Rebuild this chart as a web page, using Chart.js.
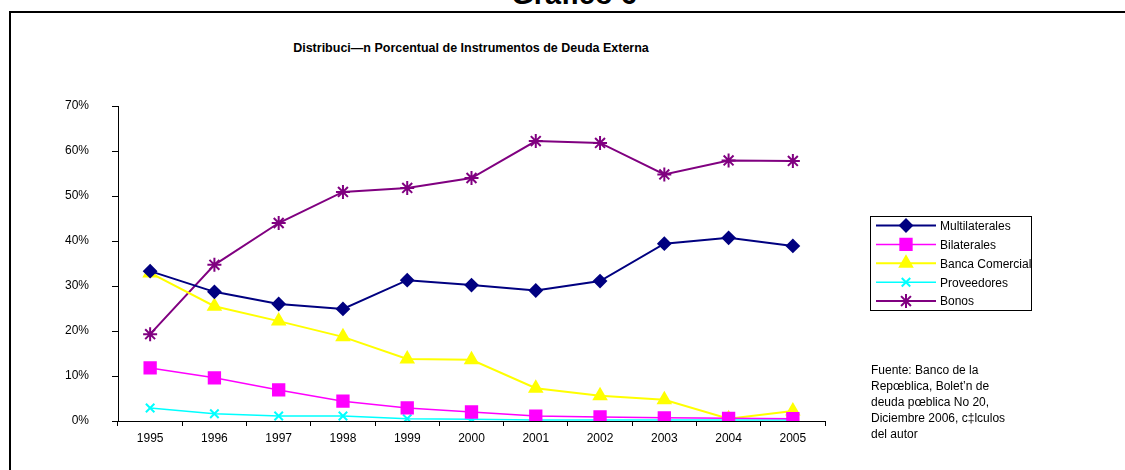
<!DOCTYPE html>
<html>
<head>
<meta charset="utf-8">
<script src="https://cdn.jsdelivr.net/npm/chart.js@4"></script>
<style>
  html, body { margin: 0; padding: 0; background: #fff; }
  #wrap { position: relative; width: 1125px; height: 470px; overflow: hidden; font-family: Arial, "Liberation Sans", sans-serif; }
  #titulo { position: absolute; left: 0; width: 1148px; top: -22px; text-align: center; font-weight: bold; font-size: 29px; color: #000; }
  #marco { position: absolute; left: 9px; top: 11px; width: 1130px; height: 480px; border-top: 2px solid #000; border-left: 2px solid #000; }
  #sub { position: absolute; left: 0; width: 942px; top: 41px; text-align: center; font-weight: bold; font-size: 12.5px; color: #000; }
  #fuente { position: absolute; left: 871px; top: 362px; font-size: 12px; line-height: 16px; color: #000; }
  canvas { position: absolute; left: 0; top: 0; }
</style>
</head>
<body>
<div id="wrap">
  <div id="titulo">Gráfico 6</div>
  <div id="marco"></div>
  <div id="sub">Distribuci—n Porcentual de Instrumentos de Deuda Externa</div>
  <canvas id="grafico" width="1125" height="470"></canvas>
  <div id="fuente">Fuente: Banco de la<br>Repœblica, Bolet’n de<br>deuda pœblica No 20,<br>Diciembre 2006, c‡lculos<br>del autor</div>
</div>
<script>
// Datos (porcentajes)
const anios = ['1995','1996','1997','1998','1999','2000','2001','2002','2003','2004','2005'];
const multilaterales = [33.3, 28.7, 26.0, 24.9, 31.3, 30.2, 29.0, 31.1, 39.4, 40.7, 38.9];
const bilaterales    = [11.8, 9.6, 6.9, 4.4, 2.9, 2.0, 1.1, 0.9, 0.7, 0.6, 0.5];
const bancaComercial = [32.9, 25.5, 22.2, 18.7, 13.8, 13.6, 7.3, 5.6, 4.7, 0.5, 2.2];
const proveedores    = [2.9, 1.6, 1.1, 1.1, 0.5, 0.4, 0.2, 0.2, 0.2, 0.2, 0.2];
const bonos          = [19.3, 34.7, 44.0, 50.9, 51.8, 54.0, 62.2, 61.8, 54.8, 57.9, 57.8];
const ticksY = [0, 10, 20, 30, 40, 50, 60, 70];

function serie(label, data, color, estilo, radio, grosor) {
  return {
    label: label, data: data,
    borderColor: color, backgroundColor: color,
    pointBackgroundColor: color, pointBorderColor: color,
    pointStyle: estilo, pointRadius: radio, pointBorderWidth: 2,
    borderWidth: grosor, tension: 0, fill: false
  };
}

// Leyenda dibujada en el canvas con caja, línea y marcador
const leyendaCaja = {
  id: 'leyendaCaja',
  afterDraw(chart) {
    const ctx = chart.ctx;
    ctx.save();
    ctx.strokeStyle = '#000';
    ctx.lineWidth = 1;
    ctx.strokeRect(870.5, 216.5, 161, 94);
    ctx.font = '12px Arial, "Liberation Sans", sans-serif';
    ctx.textBaseline = 'middle';
    chart.data.datasets.forEach((ds, i) => {
      const y = 225.5 + i * 18.9;
      ctx.strokeStyle = ds.borderColor;
      ctx.fillStyle = ds.borderColor;
      ctx.lineWidth = ds.borderWidth;
      ctx.beginPath();
      ctx.moveTo(876, y);
      ctx.lineTo(936, y);
      ctx.stroke();
      ctx.lineWidth = ds.pointBorderWidth;
      Chart.helpers.drawPoint(ctx, { pointStyle: ds.pointStyle, radius: ds.pointRadius, rotation: 0, borderWidth: ds.pointBorderWidth }, 906, y);
      ctx.fillStyle = '#000';
      ctx.fillText(ds.label, 940, y + 1);
    });
    ctx.restore();
  }
};

new Chart(document.getElementById('grafico'), {
  type: 'line',
  data: {
    labels: anios,
    datasets: [
      serie('Multilaterales', multilaterales, '#000080', 'rectRot', 6, 2),
      serie('Bilaterales', bilaterales, '#FF00FF', 'rect', 8, 1.5),
      serie('Banca Comercial', bancaComercial, '#FFFF00', 'triangle', 7, 2),
      serie('Proveedores', proveedores, '#00FFFF', 'crossRot', 6, 1.5),
      serie('Bonos', bonos, '#800080', 'star', 7, 2)
    ]
  },
  options: {
    responsive: false,
    animation: false,
    layout: { padding: { left: 0, right: 300, top: 106, bottom: 19 } },
    plugins: { legend: { display: false }, tooltip: { enabled: false }, title: { display: false } },
    scales: {
      x: {
        offset: true,
        grid: { offset: true, drawOnChartArea: false, color: '#000', tickLength: 5, tickColor: '#000' },
        border: { color: '#000', width: 1 },
        ticks: { color: '#000', font: { family: 'Arial, "Liberation Sans", sans-serif', size: 12 }, padding: 5, maxRotation: 0 },
        afterFit(scale) { scale.height = 30; }
      },
      y: {
        min: 0, max: 70,
        afterBuildTicks(scale) { scale.ticks = ticksY.map(v => ({ value: v })); },
        grid: { drawOnChartArea: false, color: '#000', tickLength: 6, tickColor: '#000' },
        border: { color: '#000', width: 1 },
        ticks: {
          color: '#000', padding: 23,
          font: { family: 'Arial, "Liberation Sans", sans-serif', size: 12 },
          callback: v => v + '%'
        },
        afterFit(scale) { scale.width = 118; }
      }
    }
  },
  plugins: [leyendaCaja]
});
</script>
</body>
</html>
